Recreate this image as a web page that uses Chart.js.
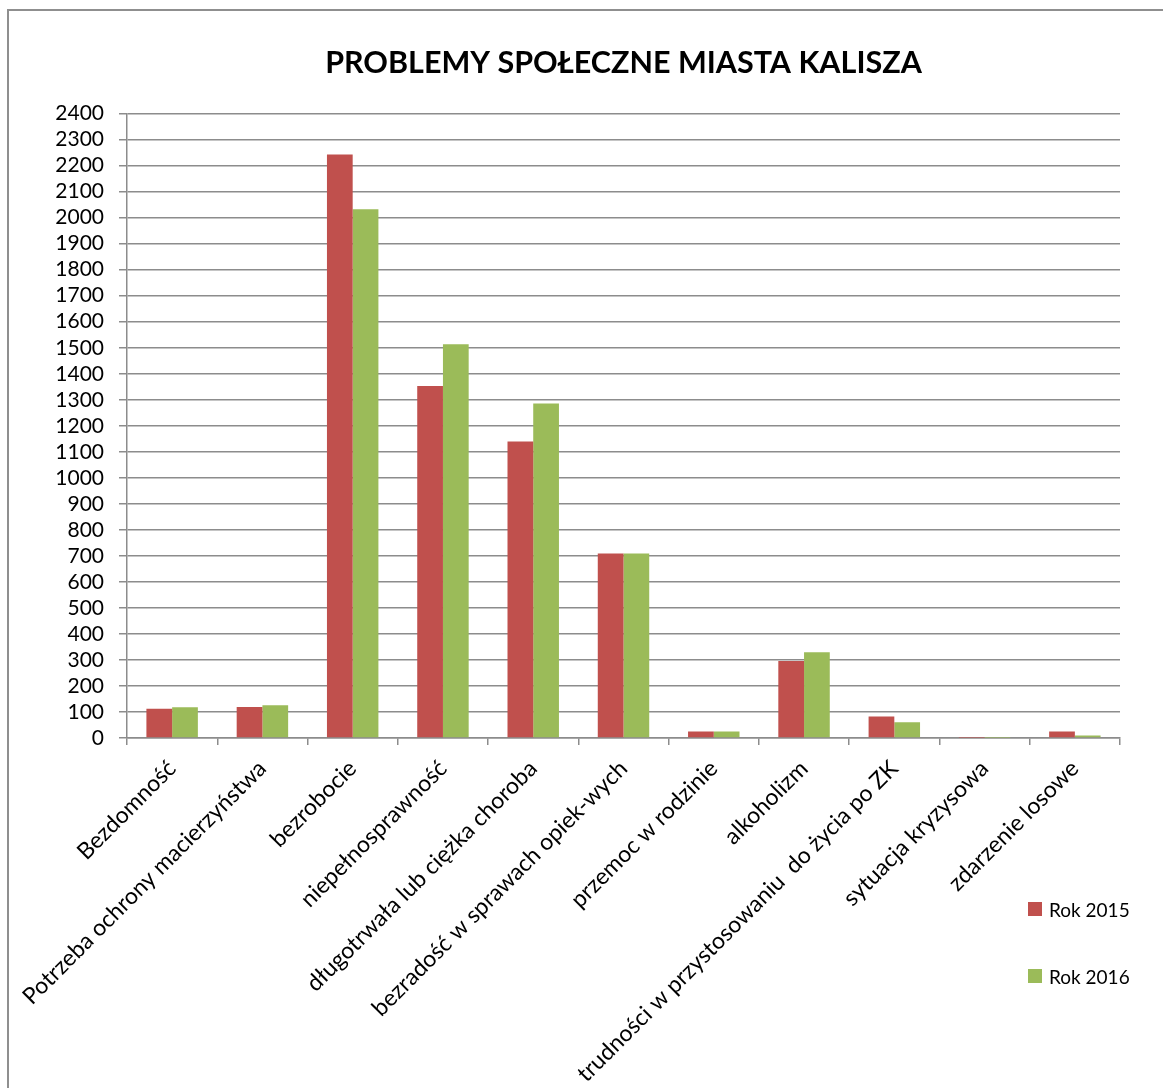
<!DOCTYPE html>
<html>
<head>
<meta charset="utf-8">
<script src="https://cdn.jsdelivr.net/npm/chart.js@4/dist/chart.umd.min.js"></script>
<style>
    body { margin: 0; background: #fff; }
    #frame {
        position: absolute;
        left: 7px;
        top: 9px;
        width: 1200px;
        height: 1200px;
        border: 2px solid #8f8f8f;
    }
    #expenseChart { position: absolute; left: 0; top: 0; }
</style>
</head>
<body>
<div id="frame"></div>
<canvas id="expenseChart" width="1163" height="1088"></canvas>
<script>
const categories = [
    "Bezdomność",
    "Potrzeba ochrony macierzyństwa",
    "bezrobocie",
    "niepełnosprawność",
    "długotrwała lub ciężka choroba",
    "bezradość w sprawach opiek-wych",
    "przemoc w rodzinie",
    "alkoholizm",
    "trudności w przystosowaniu  do życia po ZK",
    "sytuacja kryzysowa",
    "zdarzenie losowe"
];

const rok2015 = [112, 119, 2243, 1353, 1140, 709, 25, 296, 83, 1, 25];
const rok2016 = [118, 126, 2032, 1513, 1286, 709, 25, 330, 61, 1, 10];

const seriesNames = ["Rok 2015", "Rok 2016"];
const seriesColors = ["#c0504d", "#9bbb59"];

const gridColor = "#8c8c8c";
const fontFamily = "Lato, 'Open Sans', sans-serif";

// legend drawn at the lower right, below the plot like in the original
const sideLegend = {
    id: "sideLegend",
    afterDraw(chart) {
        const ctx = chart.ctx;
        ctx.save();
        ctx.font = "19px " + fontFamily;
        ctx.textBaseline = "middle";
        ctx.textAlign = "left";
        chart.data.datasets.forEach((ds, i) => {
            const y = 909 + i * 67;
            ctx.fillStyle = ds.backgroundColor;
            ctx.fillRect(1028, y - 7, 14, 14);
            ctx.fillStyle = "#000";
            ctx.fillText(ds.label, 1049, y + 2);
        });
        ctx.restore();
    }
};

const ctx = document.getElementById("expenseChart");

new Chart(ctx, {
    type: "bar",
    data: {
        labels: categories,
        datasets: [
            {
                label: seriesNames[0],
                data: rok2015,
                backgroundColor: seriesColors[0],
                categoryPercentage: 0.57,
                barPercentage: 1
            },
            {
                label: seriesNames[1],
                data: rok2016,
                backgroundColor: seriesColors[1],
                categoryPercentage: 0.57,
                barPercentage: 1
            }
        ]
    },
    options: {
        responsive: false,
        animation: false,
        layout: {
            padding: { left: 0, right: 43, top: 0, bottom: 0 }
        },
        plugins: {
            legend: { display: false },
            tooltip: { enabled: false },
            title: {
                display: true,
                text: "PROBLEMY SPOŁECZNE MIASTA KALISZA",
                color: "#000",
                fullSize: false,
                font: { family: fontFamily, size: 30.5, weight: "bold", lineHeight: 1.2 },
                padding: { top: 45, bottom: 32 }
            }
        },
        scales: {
            x: {
                grid: {
                    display: true,
                    drawOnChartArea: false,
                    drawTicks: true,
                    tickLength: 7,
                    color: gridColor,
                    lineWidth: 1.5,
                    offset: true
                },
                border: { color: gridColor, width: 1.5 },
                ticks: {
                    autoSkip: false,
                    minRotation: 45,
                    maxRotation: 45,
                    padding: 10,
                    color: "#000",
                    font: { family: fontFamily, size: 23 }
                },
                afterFit(scale) {
                    scale.height = 350;
                }
            },
            y: {
                min: 0,
                max: 2400,
                grid: {
                    color: gridColor,
                    lineWidth: 1.5,
                    tickLength: 8
                },
                border: { color: gridColor, width: 1.5 },
                ticks: {
                    stepSize: 100,
                    autoSkip: false,
                    padding: 15,
                    color: "#000",
                    font: { family: fontFamily, size: 21 },
                    callback: (value) => String(value)
                },
                afterFit(scale) {
                    scale.width = 127;
                }
            }
        }
    },
    plugins: [sideLegend]
});
</script>
</body>
</html>
